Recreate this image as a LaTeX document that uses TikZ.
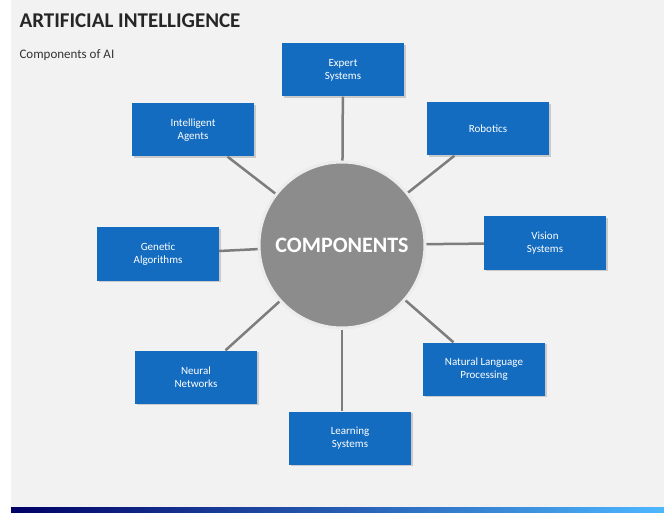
\documentclass[tikz,border=0pt]{standalone}
\usepackage{fontspec}
\setmainfont{Carlito}
\usetikzlibrary{shadows}
\definecolor{boxblue}{RGB}{20,108,192}
\definecolor{bggray}{RGB}{242,242,242}
\definecolor{linegray}{RGB}{125,125,125}
\definecolor{ballgray}{RGB}{140,140,140}
\tikzset{
  part/.style={draw=none,fill=boxblue,text=white,minimum width=122pt,minimum height=53pt,
    align=center,font=\fontsize{11}{13}\selectfont,
    drop shadow={opacity=0.35,shadow xshift=1.5pt,shadow yshift=-1.5pt}},
  spoke/.style={draw=linegray,line width=2.5pt}
}
\begin{document}
\begin{tikzpicture}[x=1pt,y=-1pt]
    \useasboundingbox (0,0) rectangle (664,513);
    \fill[bggray] (11,0) rectangle (664,507);
    \shade[left color=blue!40!black,right color=cyan!60!blue!70] (11,507) rectangle (664,513);
    \node[anchor=west,font=\bfseries\fontsize{21}{24}\selectfont,text=black!85] (title) at (16,21) {ARTIFICIAL INTELLIGENCE};
    \node[anchor=west,font=\fontsize{13}{15}\selectfont,text=black!80] (sub) at (16,55) {Components of AI};
    % centre and the eight parts
    \node[circle,minimum size=166pt,inner sep=0pt,fill=ballgray,draw=white!85!gray,line width=3pt,
          text=white,font=\bfseries\fontsize{22}{26}\selectfont] (comp) at (342,245) {COMPONENTS};
    \node[part] (expert) at (343,70) {Expert\\Systems};
    \node[part] (robot) at (488,129) {Robotics};
    \node[part] (vision) at (545,243) {Vision\\Systems};
    \node[part] (nlp) at (484,369) {Natural Language\\Processing};
    \node[part] (learn) at (350,438) {Learning\\Systems};
    \node[part] (neural) at (196,377) {Neural\\Networks};
    \node[part] (genetic) at (158,254) {Genetic\\Algorithms};
    \node[part] (agent) at (193,130) {Intelligent\\Agents};
    \foreach \p in {expert,robot,vision,nlp,neural,genetic,agent}
        \draw[spoke] (comp) -- (\p);
    \draw[spoke] (comp) -- (comp |- learn.north);
\end{tikzpicture}
\end{document}
